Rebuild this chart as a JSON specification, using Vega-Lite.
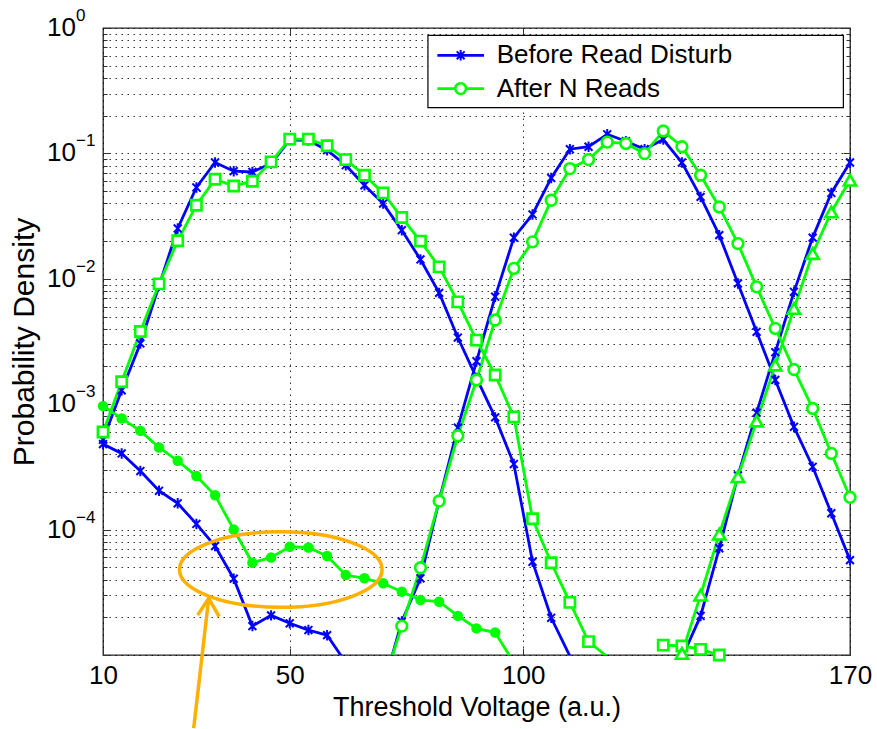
{
  "$schema": "https://vega.github.io/schema/vega-lite/v6.json",
  "width": 747,
  "height": 627,
  "autosize": {"type": "none"},
  "padding": {"left": 103, "top": 28, "right": 27, "bottom": 74},
  "background": "white",
  "config": {"font": "Liberation Sans", "view": {"stroke": "#222222", "strokeWidth": 1.3}},
  "datasets": {
    "curves": [
      {"s":"bA","x":10,"v":4.81e-4},{"s":"bA","x":14,"v":4.05e-4},{"s":"bA","x":18,"v":2.93e-4},{"s":"bA","x":22,"v":2.04e-4},{"s":"bA","x":26,"v":1.62e-4},{"s":"bA","x":30,"v":1.11e-4},{"s":"bA","x":34,"v":7.4e-5},{"s":"bA","x":38,"v":4.06e-5},{"s":"bA","x":42,"v":1.70e-5},{"s":"bA","x":46,"v":2.07e-5},{"s":"bA","x":50,"v":1.79e-5},{"s":"bA","x":54,"v":1.58e-5},{"s":"bA","x":58,"v":1.44e-5},{"s":"bA","x":62,"v":8.7e-6},
      {"s":"bB","x":10,"v":5.2e-4},{"s":"bB","x":14,"v":1.29e-3},{"s":"bB","x":18,"v":3.05e-3},{"s":"bB","x":22,"v":8.8e-3},{"s":"bB","x":26,"v":2.52e-2},{"s":"bB","x":30,"v":5.35e-2},{"s":"bB","x":34,"v":8.46e-2},{"s":"bB","x":38,"v":7.21e-2},{"s":"bB","x":42,"v":7.11e-2},{"s":"bB","x":46,"v":8.3e-2},{"s":"bB","x":50,"v":0.128},{"s":"bB","x":54,"v":0.127},{"s":"bB","x":58,"v":0.106},{"s":"bB","x":62,"v":0.0805},{"s":"bB","x":66,"v":0.0557},{"s":"bB","x":70,"v":0.0398},{"s":"bB","x":74,"v":0.0244},{"s":"bB","x":78,"v":0.01426},{"s":"bB","x":82,"v":7.72e-3},{"s":"bB","x":86,"v":3.40e-3},{"s":"bB","x":90,"v":1.62e-3},{"s":"bB","x":94,"v":7.85e-4},{"s":"bB","x":98,"v":3.33e-4},{"s":"bB","x":102,"v":5.54e-5},{"s":"bB","x":106,"v":1.98e-5},{"s":"bB","x":110,"v":9.8e-6},
      {"s":"bC","x":70,"v":5.5e-6},{"s":"bC","x":74,"v":1.85e-5},{"s":"bC","x":78,"v":4.09e-5},{"s":"bC","x":82,"v":1.7e-4},{"s":"bC","x":86,"v":6.5e-4},{"s":"bC","x":90,"v":2.2e-3},{"s":"bC","x":94,"v":7.2e-3},{"s":"bC","x":98,"v":2.13e-2},{"s":"bC","x":102,"v":3.26e-2},{"s":"bC","x":106,"v":6.37e-2},{"s":"bC","x":110,"v":0.108},{"s":"bC","x":114,"v":0.113},{"s":"bC","x":118,"v":0.142},{"s":"bC","x":122,"v":0.125},{"s":"bC","x":126,"v":0.108},{"s":"bC","x":130,"v":0.129},{"s":"bC","x":134,"v":0.0846},{"s":"bC","x":138,"v":0.045},{"s":"bC","x":142,"v":0.0223},{"s":"bC","x":146,"v":9.18e-3},{"s":"bC","x":150,"v":3.78e-3},{"s":"bC","x":154,"v":1.56e-3},{"s":"bC","x":158,"v":6.6e-4},{"s":"bC","x":162,"v":3.17e-4},{"s":"bC","x":166,"v":1.35e-4},{"s":"bC","x":170,"v":5.71e-5},
      {"s":"bD","x":134,"v":9.5e-6},{"s":"bD","x":138,"v":2.05e-5},{"s":"bD","x":142,"v":7.1e-5},{"s":"bD","x":146,"v":2.7e-4},{"s":"bD","x":150,"v":8.55e-4},{"s":"bD","x":154,"v":2.6e-3},{"s":"bD","x":158,"v":7.87e-3},{"s":"bD","x":162,"v":2.13e-2},{"s":"bD","x":166,"v":4.84e-2},{"s":"bD","x":170,"v":8.46e-2},
      {"s":"gT","x":10,"v":9.66e-4},{"s":"gT","x":14,"v":7.7e-4},{"s":"gT","x":18,"v":6.13e-4},{"s":"gT","x":22,"v":4.52e-4},{"s":"gT","x":26,"v":3.54e-4},{"s":"gT","x":30,"v":2.67e-4},{"s":"gT","x":34,"v":1.88e-4},{"s":"gT","x":38,"v":1.0e-4},{"s":"gT","x":42,"v":5.44e-5},{"s":"gT","x":46,"v":6.0e-5},{"s":"gT","x":50,"v":7.3e-5},{"s":"gT","x":54,"v":7.2e-5},{"s":"gT","x":58,"v":6.15e-5},{"s":"gT","x":62,"v":4.34e-5},{"s":"gT","x":66,"v":4.09e-5},{"s":"gT","x":70,"v":3.73e-5},{"s":"gT","x":74,"v":3.2e-5},{"s":"gT","x":78,"v":2.74e-5},{"s":"gT","x":82,"v":2.66e-5},{"s":"gT","x":86,"v":2.05e-5},{"s":"gT","x":90,"v":1.63e-5},{"s":"gT","x":94,"v":1.51e-5},{"s":"gT","x":98,"v":8.7e-6},
      {"s":"gS","x":10,"v":6.0e-4},{"s":"gS","x":14,"v":1.51e-3},{"s":"gS","x":18,"v":3.8e-3},{"s":"gS","x":22,"v":9.1e-3},{"s":"gS","x":26,"v":2.01e-2},{"s":"gS","x":30,"v":3.86e-2},{"s":"gS","x":34,"v":6.22e-2},{"s":"gS","x":38,"v":5.5e-2},{"s":"gS","x":42,"v":6.0e-2},{"s":"gS","x":46,"v":8.55e-2},{"s":"gS","x":50,"v":0.130},{"s":"gS","x":54,"v":0.130},{"s":"gS","x":58,"v":0.115},{"s":"gS","x":62,"v":0.0893},{"s":"gS","x":66,"v":0.067},{"s":"gS","x":70,"v":0.0484},{"s":"gS","x":74,"v":0.0308},{"s":"gS","x":78,"v":0.0200},{"s":"gS","x":82,"v":0.01245},{"s":"gS","x":86,"v":6.55e-3},{"s":"gS","x":90,"v":3.24e-3},{"s":"gS","x":94,"v":1.71e-3},{"s":"gS","x":98,"v":7.9e-4},{"s":"gS","x":102,"v":1.22e-4},{"s":"gS","x":106,"v":5.44e-5},{"s":"gS","x":110,"v":2.63e-5},{"s":"gS","x":114,"v":1.28e-5},{"s":"gS","x":118,"v":9.7e-6},
      {"s":"gS2","x":130,"v":1.2e-5},{"s":"gS2","x":134,"v":1.18e-5},{"s":"gS2","x":138,"v":1.11e-5},{"s":"gS2","x":142,"v":1.0e-5},
      {"s":"gC","x":70,"v":5.8e-6},{"s":"gC","x":74,"v":1.70e-5},{"s":"gC","x":78,"v":4.96e-5},{"s":"gC","x":82,"v":1.69e-4},{"s":"gC","x":86,"v":5.6e-4},{"s":"gC","x":90,"v":1.56e-3},{"s":"gC","x":94,"v":4.69e-3},{"s":"gC","x":98,"v":1.21e-2},{"s":"gC","x":102,"v":1.97e-2},{"s":"gC","x":106,"v":4.23e-2},{"s":"gC","x":110,"v":0.0757},{"s":"gC","x":114,"v":0.0893},{"s":"gC","x":118,"v":0.123},{"s":"gC","x":122,"v":0.12},{"s":"gC","x":126,"v":0.0997},{"s":"gC","x":130,"v":0.151},{"s":"gC","x":134,"v":0.113},{"s":"gC","x":138,"v":0.067},{"s":"gC","x":142,"v":0.0374},{"s":"gC","x":146,"v":0.0191},{"s":"gC","x":150,"v":8.63e-3},{"s":"gC","x":154,"v":4.02e-3},{"s":"gC","x":158,"v":1.89e-3},{"s":"gC","x":162,"v":9.25e-4},{"s":"gC","x":166,"v":4.05e-4},{"s":"gC","x":170,"v":1.81e-4},
      {"s":"gR","x":134,"v":1.03e-5},{"s":"gR","x":138,"v":3.0e-5},{"s":"gR","x":142,"v":9.2e-5},{"s":"gR","x":146,"v":2.64e-4},{"s":"gR","x":150,"v":7.33e-4},{"s":"gR","x":154,"v":2.05e-3},{"s":"gR","x":158,"v":5.8e-3},{"s":"gR","x":162,"v":1.59e-2},{"s":"gR","x":166,"v":3.41e-2},{"s":"gR","x":170,"v":6.11e-2}
    ],
    "yticks": [
      {"t": 1, "e": "0"}, {"t": 0.1, "e": "−1"}, {"t": 0.01, "e": "−2"}, {"t": 0.001, "e": "−3"}, {"t": 0.0001, "e": "−4"}
    ],
    "legend": [
      {"label": "Before Read Disturb", "s": "before", "x": 86.61, "v": 0.606},
      {"label": "After N Reads", "s": "after", "x": 86.61, "v": 0.3288}
    ],
    "ellipse": [{"x": 48.08, "v": 4.8e-5}],
    "arrow": [
      {"part": "shaft", "o": 1, "x": 29.43, "v": 2.61e-6},
      {"part": "shaft", "o": 2, "x": 32.64, "v": 2.83e-5},
      {"part": "head", "o": 1, "x": 30.28, "v": 2.08e-5},
      {"part": "head", "o": 2, "x": 32.64, "v": 2.83e-5},
      {"part": "head", "o": 3, "x": 34.89, "v": 2.02e-5}
    ]
  },
  "resolve": {"axis": {"x": "independent", "y": "independent"}},
  "layer": [
    {
      "data": {"name": "curves"},
      "transform": [{"filter": {"field": "s", "oneOf": ["bA", "bB", "bC", "bD"]}}],
      "mark": {"type": "line", "color": "#0000FF", "strokeWidth": 2.8, "clip": true},
      "encoding": {
        "x": {"field": "x", "type": "quantitative", "scale": {"domain": [10, 170], "nice": false, "zero": false},
          "axis": {"orient": "bottom", "values": [10, 50, 100, 170], "title": "Threshold Voltage (a.u.)",
            "titleFont": "Liberation Sans", "titleFontSize": 27, "titleFontWeight": "normal", "titleColor": "#000000", "titlePadding": 6,
            "labelFont": "Liberation Sans", "labelFontSize": 26, "labelColor": "#000000", "labelPadding": 14, "labelFlush": false, "labelOverlap": false,
            "grid": true, "gridDash": [1.5, 4.5], "gridColor": "#000000", "gridOpacity": 0.8, "gridWidth": 1,
            "ticks": true, "tickSize": -7, "tickColor": "#333333", "domain": false}},
        "y": {"field": "v", "type": "quantitative", "scale": {"type": "log", "domain": [0.00001, 1], "nice": false},
          "axis": {"orient": "left", "values": [0.00001,0.00002,0.00003,0.00004,0.00005,0.00006,0.00007,0.00008,0.00009,0.0001,0.0002,0.0003,0.0004,0.0005,0.0006,0.0007,0.0008,0.0009,0.001,0.002,0.003,0.004,0.005,0.006,0.007,0.008,0.009,0.01,0.02,0.03,0.04,0.05,0.06,0.07,0.08,0.09,0.1,0.2,0.3,0.4,0.5,0.6,0.7,0.8,0.9,1],
            "labels": false, "title": "Probability Density",
            "titleFont": "Liberation Sans", "titleFontSize": 30, "titleFontWeight": "normal", "titleColor": "#000000", "titlePadding": 63,
            "grid": true, "gridDash": [1.5, 4.5], "gridColor": "#000000", "gridOpacity": 0.8, "gridWidth": 1,
            "ticks": true, "tickColor": "#333333", "domain": false,
            "tickSize": {"condition": {"test": "abs(log(datum.value)/LN10 - round(log(datum.value)/LN10)) < 0.001", "value": -7}, "value": -4}}},
        "detail": {"field": "s"},
        "order": {"field": "x"}
      }
    },
    {
      "data": {"name": "curves"},
      "transform": [{"filter": {"field": "s", "oneOf": ["gT", "gS", "gS2", "gC", "gR"]}}],
      "mark": {"type": "line", "color": "#00FF00", "strokeWidth": 2.8, "clip": true},
      "encoding": {
        "x": {"field": "x", "type": "quantitative", "scale": {"domain": [10, 170], "nice": false, "zero": false}, "axis": null},
        "y": {"field": "v", "type": "quantitative", "scale": {"type": "log", "domain": [0.00001, 1], "nice": false}, "axis": null},
        "detail": {"field": "s"},
        "order": {"field": "x"}
      }
    },
    {
      "data": {"name": "curves"},
      "transform": [{"filter": {"and": [{"field": "s", "oneOf": ["bA", "bB", "bC", "bD"]}, {"field": "v", "gte": 0.0000099}]}}],
      "mark": {"type": "point", "shape": "M -0.75 -0.75 L 0.75 0.75 M -0.75 0.75 L 0.75 -0.75 M 0 -1 L 0 1", "filled": false, "stroke": "#0000FF", "strokeWidth": 2, "size": 110, "opacity": 1},
      "encoding": {
        "x": {"field": "x", "type": "quantitative", "scale": {"domain": [10, 170], "nice": false, "zero": false}, "axis": null},
        "y": {"field": "v", "type": "quantitative", "scale": {"type": "log", "domain": [0.00001, 1], "nice": false}, "axis": null}
      }
    },
    {
      "data": {"name": "curves"},
      "transform": [{"filter": {"and": [{"field": "s", "equal": "gT"}, {"field": "v", "gte": 0.0000099}]}}],
      "mark": {"type": "point", "shape": "circle", "filled": true, "fill": "#00FF00", "strokeWidth": 0, "size": 110, "opacity": 1},
      "encoding": {
        "x": {"field": "x", "type": "quantitative", "scale": {"domain": [10, 170], "nice": false, "zero": false}, "axis": null},
        "y": {"field": "v", "type": "quantitative", "scale": {"type": "log", "domain": [0.00001, 1], "nice": false}, "axis": null}
      }
    },
    {
      "data": {"name": "curves"},
      "transform": [{"filter": {"and": [{"field": "s", "oneOf": ["gS", "gS2"]}, {"field": "v", "gte": 0.0000099}]}}],
      "mark": {"type": "point", "shape": "square", "filled": true, "fill": "white", "stroke": "#00FF00", "strokeWidth": 2.6, "size": 105, "opacity": 1},
      "encoding": {
        "x": {"field": "x", "type": "quantitative", "scale": {"domain": [10, 170], "nice": false, "zero": false}, "axis": null},
        "y": {"field": "v", "type": "quantitative", "scale": {"type": "log", "domain": [0.00001, 1], "nice": false}, "axis": null}
      }
    },
    {
      "data": {"name": "curves"},
      "transform": [{"filter": {"and": [{"field": "s", "equal": "gC"}, {"field": "v", "gte": 0.0000099}]}}],
      "mark": {"type": "point", "shape": "circle", "filled": true, "fill": "white", "stroke": "#00FF00", "strokeWidth": 2.6, "size": 115, "opacity": 1},
      "encoding": {
        "x": {"field": "x", "type": "quantitative", "scale": {"domain": [10, 170], "nice": false, "zero": false}, "axis": null},
        "y": {"field": "v", "type": "quantitative", "scale": {"type": "log", "domain": [0.00001, 1], "nice": false}, "axis": null}
      }
    },
    {
      "data": {"name": "curves"},
      "transform": [{"filter": {"and": [{"field": "s", "equal": "gR"}, {"field": "v", "gte": 0.0000099}]}}],
      "mark": {"type": "point", "shape": "triangle-up", "filled": true, "fill": "white", "stroke": "#00FF00", "strokeWidth": 2.6, "size": 150, "opacity": 1},
      "encoding": {
        "x": {"field": "x", "type": "quantitative", "scale": {"domain": [10, 170], "nice": false, "zero": false}, "axis": null},
        "y": {"field": "v", "type": "quantitative", "scale": {"type": "log", "domain": [0.00001, 1], "nice": false}, "axis": null}
      }
    },
    {
      "data": {"name": "yticks"},
      "mark": {"type": "text", "text": "10", "align": "right", "baseline": "middle", "dx": -27, "font": "Liberation Sans", "fontSize": 26, "color": "#000000"},
      "encoding": {
        "x": {"datum": 10, "type": "quantitative", "scale": {"domain": [10, 170], "nice": false, "zero": false}, "axis": null},
        "y": {"field": "t", "type": "quantitative", "scale": {"type": "log", "domain": [0.00001, 1], "nice": false}, "axis": null}
      }
    },
    {
      "data": {"name": "yticks"},
      "mark": {"type": "text", "align": "left", "baseline": "middle", "dx": -27, "dy": -12, "font": "Liberation Sans", "fontSize": 17, "color": "#000000"},
      "encoding": {
        "x": {"datum": 10, "type": "quantitative", "scale": {"domain": [10, 170], "nice": false, "zero": false}, "axis": null},
        "y": {"field": "t", "type": "quantitative", "scale": {"type": "log", "domain": [0.00001, 1], "nice": false}, "axis": null},
        "text": {"field": "e"}
      }
    },
    {
      "data": {"values": [{}]},
      "mark": {"type": "rect", "fill": "white", "stroke": "#000000", "strokeWidth": 1.2},
      "encoding": {
        "x": {"datum": 79.6, "type": "quantitative", "scale": {"domain": [10, 170], "nice": false, "zero": false}, "axis": null},
        "x2": {"datum": 168.58},
        "y": {"datum": 0.8745, "type": "quantitative", "scale": {"type": "log", "domain": [0.00001, 1], "nice": false}, "axis": null},
        "y2": {"datum": 0.232}
      }
    },
    {
      "data": {"name": "legend"},
      "mark": {"type": "point", "shape": "M -1 0 L 1 0", "filled": false, "strokeWidth": 2.8, "size": 2172, "opacity": 1},
      "encoding": {
        "x": {"field": "x", "type": "quantitative", "scale": {"domain": [10, 170], "nice": false, "zero": false}, "axis": null},
        "y": {"field": "v", "type": "quantitative", "scale": {"type": "log", "domain": [0.00001, 1], "nice": false}, "axis": null},
        "color": {"field": "s", "type": "nominal", "scale": {"domain": ["before", "after"], "range": ["#0000FF", "#00FF00"]}, "legend": null}
      }
    },
    {
      "data": {"name": "legend"},
      "transform": [{"filter": {"field": "s", "equal": "before"}}],
      "mark": {"type": "point", "shape": "M -0.75 -0.75 L 0.75 0.75 M -0.75 0.75 L 0.75 -0.75 M 0 -1 L 0 1", "filled": false, "stroke": "#0000FF", "strokeWidth": 2, "size": 110, "opacity": 1},
      "encoding": {
        "x": {"field": "x", "type": "quantitative", "scale": {"domain": [10, 170], "nice": false, "zero": false}, "axis": null},
        "y": {"field": "v", "type": "quantitative", "scale": {"type": "log", "domain": [0.00001, 1], "nice": false}, "axis": null}
      }
    },
    {
      "data": {"name": "legend"},
      "transform": [{"filter": {"field": "s", "equal": "after"}}],
      "mark": {"type": "point", "shape": "circle", "filled": true, "fill": "white", "stroke": "#00FF00", "strokeWidth": 2.6, "size": 115, "opacity": 1},
      "encoding": {
        "x": {"field": "x", "type": "quantitative", "scale": {"domain": [10, 170], "nice": false, "zero": false}, "axis": null},
        "y": {"field": "v", "type": "quantitative", "scale": {"type": "log", "domain": [0.00001, 1], "nice": false}, "axis": null}
      }
    },
    {
      "data": {"name": "legend"},
      "mark": {"type": "text", "align": "left", "baseline": "middle", "dx": 36, "dy": 0, "font": "Liberation Sans", "fontSize": 26, "color": "#000000"},
      "encoding": {
        "x": {"field": "x", "type": "quantitative", "scale": {"domain": [10, 170], "nice": false, "zero": false}, "axis": null},
        "y": {"field": "v", "type": "quantitative", "scale": {"type": "log", "domain": [0.00001, 1], "nice": false}, "axis": null},
        "text": {"field": "label"}
      }
    },
    {
      "data": {"name": "arrow"},
      "mark": {"type": "line", "color": "#FFB000", "strokeWidth": 3.5, "clip": false},
      "encoding": {
        "x": {"field": "x", "type": "quantitative", "scale": {"domain": [10, 170], "nice": false, "zero": false}, "axis": null},
        "y": {"field": "v", "type": "quantitative", "scale": {"type": "log", "domain": [0.00001, 1], "nice": false}, "axis": null},
        "detail": {"field": "part"},
        "order": {"field": "o"}
      }
    },
    {
      "data": {"name": "ellipse"},
      "mark": {"type": "point", "shape": "M -1 0 A 1 0.373 0 1 1 1 0 A 1 0.373 0 1 1 -1 0 Z", "filled": false, "stroke": "#FFB000", "strokeWidth": 3.5, "size": 41047, "opacity": 1},
      "encoding": {
        "x": {"field": "x", "type": "quantitative", "scale": {"domain": [10, 170], "nice": false, "zero": false},
          "axis": {"orient": "top", "values": [50, 100], "labels": false, "grid": false, "domain": false, "ticks": true, "tickSize": -7, "tickColor": "#333333", "title": null}},
        "y": {"field": "v", "type": "quantitative", "scale": {"type": "log", "domain": [0.00001, 1], "nice": false},
          "axis": {"orient": "right", "values": [0.00001,0.00002,0.00003,0.00004,0.00005,0.00006,0.00007,0.00008,0.00009,0.0001,0.0002,0.0003,0.0004,0.0005,0.0006,0.0007,0.0008,0.0009,0.001,0.002,0.003,0.004,0.005,0.006,0.007,0.008,0.009,0.01,0.02,0.03,0.04,0.05,0.06,0.07,0.08,0.09,0.1,0.2,0.3,0.4,0.5,0.6,0.7,0.8,0.9,1],
            "labels": false, "grid": false, "domain": false, "ticks": true, "tickColor": "#333333", "title": null,
            "tickSize": {"condition": {"test": "abs(log(datum.value)/LN10 - round(log(datum.value)/LN10)) < 0.001", "value": -7}, "value": -4}}}
      }
    }
  ]
}
